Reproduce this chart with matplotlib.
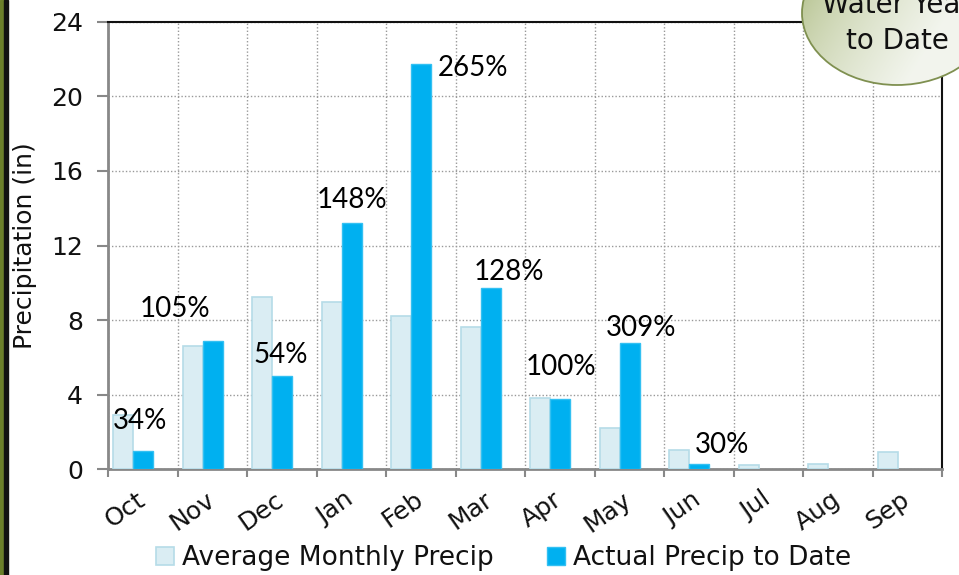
import matplotlib
matplotlib.use("Agg")
import matplotlib.pyplot as plt
import numpy as np
from matplotlib.patches import Ellipse, Rectangle, Patch
from matplotlib.transforms import ScaledTranslation

months = ["Oct", "Nov", "Dec", "Jan", "Feb", "Mar", "Apr", "May", "Jun", "Jul", "Aug", "Sep"]
avg_precip = [2.9, 6.63, 9.25, 8.95, 8.22, 7.63, 3.81, 2.23, 1.02, 0.21, 0.30, 0.91]
actual_precip = [0.98, 6.90, 5.0, 13.19, 21.73, 9.72, 3.77, 6.79, 0.28, 0, 0, 0]
pct_labels = ["34%", "105%", "54%", "148%", "265%", "128%", "100%", "309%", "30%"]
yticks = [0, 4, 8, 12, 16, 20, 24]

# label placement (data coords)
pct_pos = [(-0.04, 2.59), (0.46, 8.59), (1.99, 6.13), (3.01, 14.45), (4.75, 21.52),
           (5.27, 10.58), (6.02, 5.49), (7.17, 7.58), (8.33, 1.31)]

W, H = 959, 575
fig = plt.figure(figsize=(W / 100, H / 100), dpi=100)
fig.patch.set_facecolor("white")
ax = fig.add_axes([108 / W, 1 - 469.3 / H, (942 - 108) / W, (469.3 - 21.7) / H])

x = np.arange(len(months))
bw = 0.288
ax.bar(x - 0.424, avg_precip, width=bw, align="edge", color="#daedf3", edgecolor="#b5dce8",
       linewidth=[1.2 if v > 0 else 0 for v in avg_precip], zorder=3)
ax.bar(x - 0.136, actual_precip, width=bw, align="edge", color="#00b0f0", edgecolor="#33c0f2",
       linewidth=[1.0 if v > 0 else 0 for v in actual_precip], zorder=3)

ax.set_xlim(-0.5, 11.5)
ax.set_ylim(0, 24)
ax.set_yticks(yticks)
ax.set_yticklabels([str(v) for v in yticks], fontsize=18, color="#111111")
ax.tick_params(axis="y", length=8, width=1.5, color="#888888", pad=10)

ax.set_xticks(np.arange(-0.5, 12, 1), minor=True)
ax.set_xticks(x)
ax.set_xticklabels(months, fontsize=18, rotation=35, ha="right", rotation_mode="anchor", color="#111111")
ax.tick_params(axis="x", which="major", length=0, pad=13)
ax.tick_params(axis="x", which="minor", length=6, width=1.5, color="#888888")
for lbl in ax.get_xticklabels():
    lbl.set_transform(lbl.get_transform() + ScaledTranslation(-0.07, 0, fig.dpi_scale_trans))

ax.grid(True, axis="y", linestyle=(0, (1, 1.5)), color="#999999", linewidth=1.0, zorder=0)
ax.grid(True, axis="x", which="minor", linestyle=(0, (1, 1.5)), color="#999999", linewidth=1.0, zorder=0)

for s in ["left", "bottom"]:
    ax.spines[s].set_color("#888888")
    ax.spines[s].set_linewidth(2)
for s in ["top", "right"]:
    ax.spines[s].set_color("#111111")
    ax.spines[s].set_linewidth(1.5)

ax.set_ylabel("Precipitation (in)", fontsize=18, color="#111111", labelpad=10)

for lab, (px, py) in zip(pct_labels, pct_pos):
    ax.text(px, py, lab, fontsize=20, family="Lato", ha="center", va="center", color="black", zorder=5)

handles = [Patch(facecolor="#daedf3", edgecolor="#b5dce8", linewidth=1.2),
           Patch(facecolor="#00b0f0", edgecolor="#33c0f2")]
fig.legend(handles, ["Average Monthly Precip", "Actual Precip to Date"], loc="lower center",
           bbox_to_anchor=(0.525, -0.035), ncol=2, frameon=False, fontsize=19,
           handlelength=0.7, handleheight=0.7, handletextpad=0.3, columnspacing=2.0,
           labelcolor="#111111")

# overlay for bubble and border
ov = fig.add_axes([0, 0, 1, 1], facecolor="none")
ov.set_xlim(0, W)
ov.set_ylim(H, 0)
ov.axis("off")
ov.add_patch(Rectangle((0, 0), 4, H, color="#6b7f2a", zorder=1))
ov.add_patch(Rectangle((4, 0), 3.5, H, color="#111111", zorder=1))

ell = Ellipse((897, 13), 190, 144, facecolor="none", edgecolor="#7f9050", linewidth=1.3, zorder=4)
ov.add_patch(ell)
gx = np.linspace(0, 1, 200)
gy = np.linspace(0, 1, 100)
GX, GY = np.meshgrid(gx, gy)
t = np.clip(1.1 * GX + 0.5 * GY - 0.1, 0, 1) ** 0.6
c0 = np.array([0.66, 0.72, 0.48])
c1 = np.array([0.95, 0.96, 0.93])
img = c0[None, None, :] * (1 - t[..., None]) + c1[None, None, :] * t[..., None]
im = ov.imshow(img, extent=(802, 992, 85, -59), origin="upper", zorder=3, aspect="auto")
im.set_clip_path(Ellipse((897, 13), 190, 144, transform=ov.transData))
ov.set_xlim(0, W)
ov.set_ylim(H, 0)
ov.text(897, 5, "Water Year", fontsize=20, ha="center", va="center", color="#111111", zorder=5)
ov.text(897, 41, "to Date", fontsize=20, ha="center", va="center", color="#111111", zorder=5)

fig.savefig("out.png", dpi=100)
